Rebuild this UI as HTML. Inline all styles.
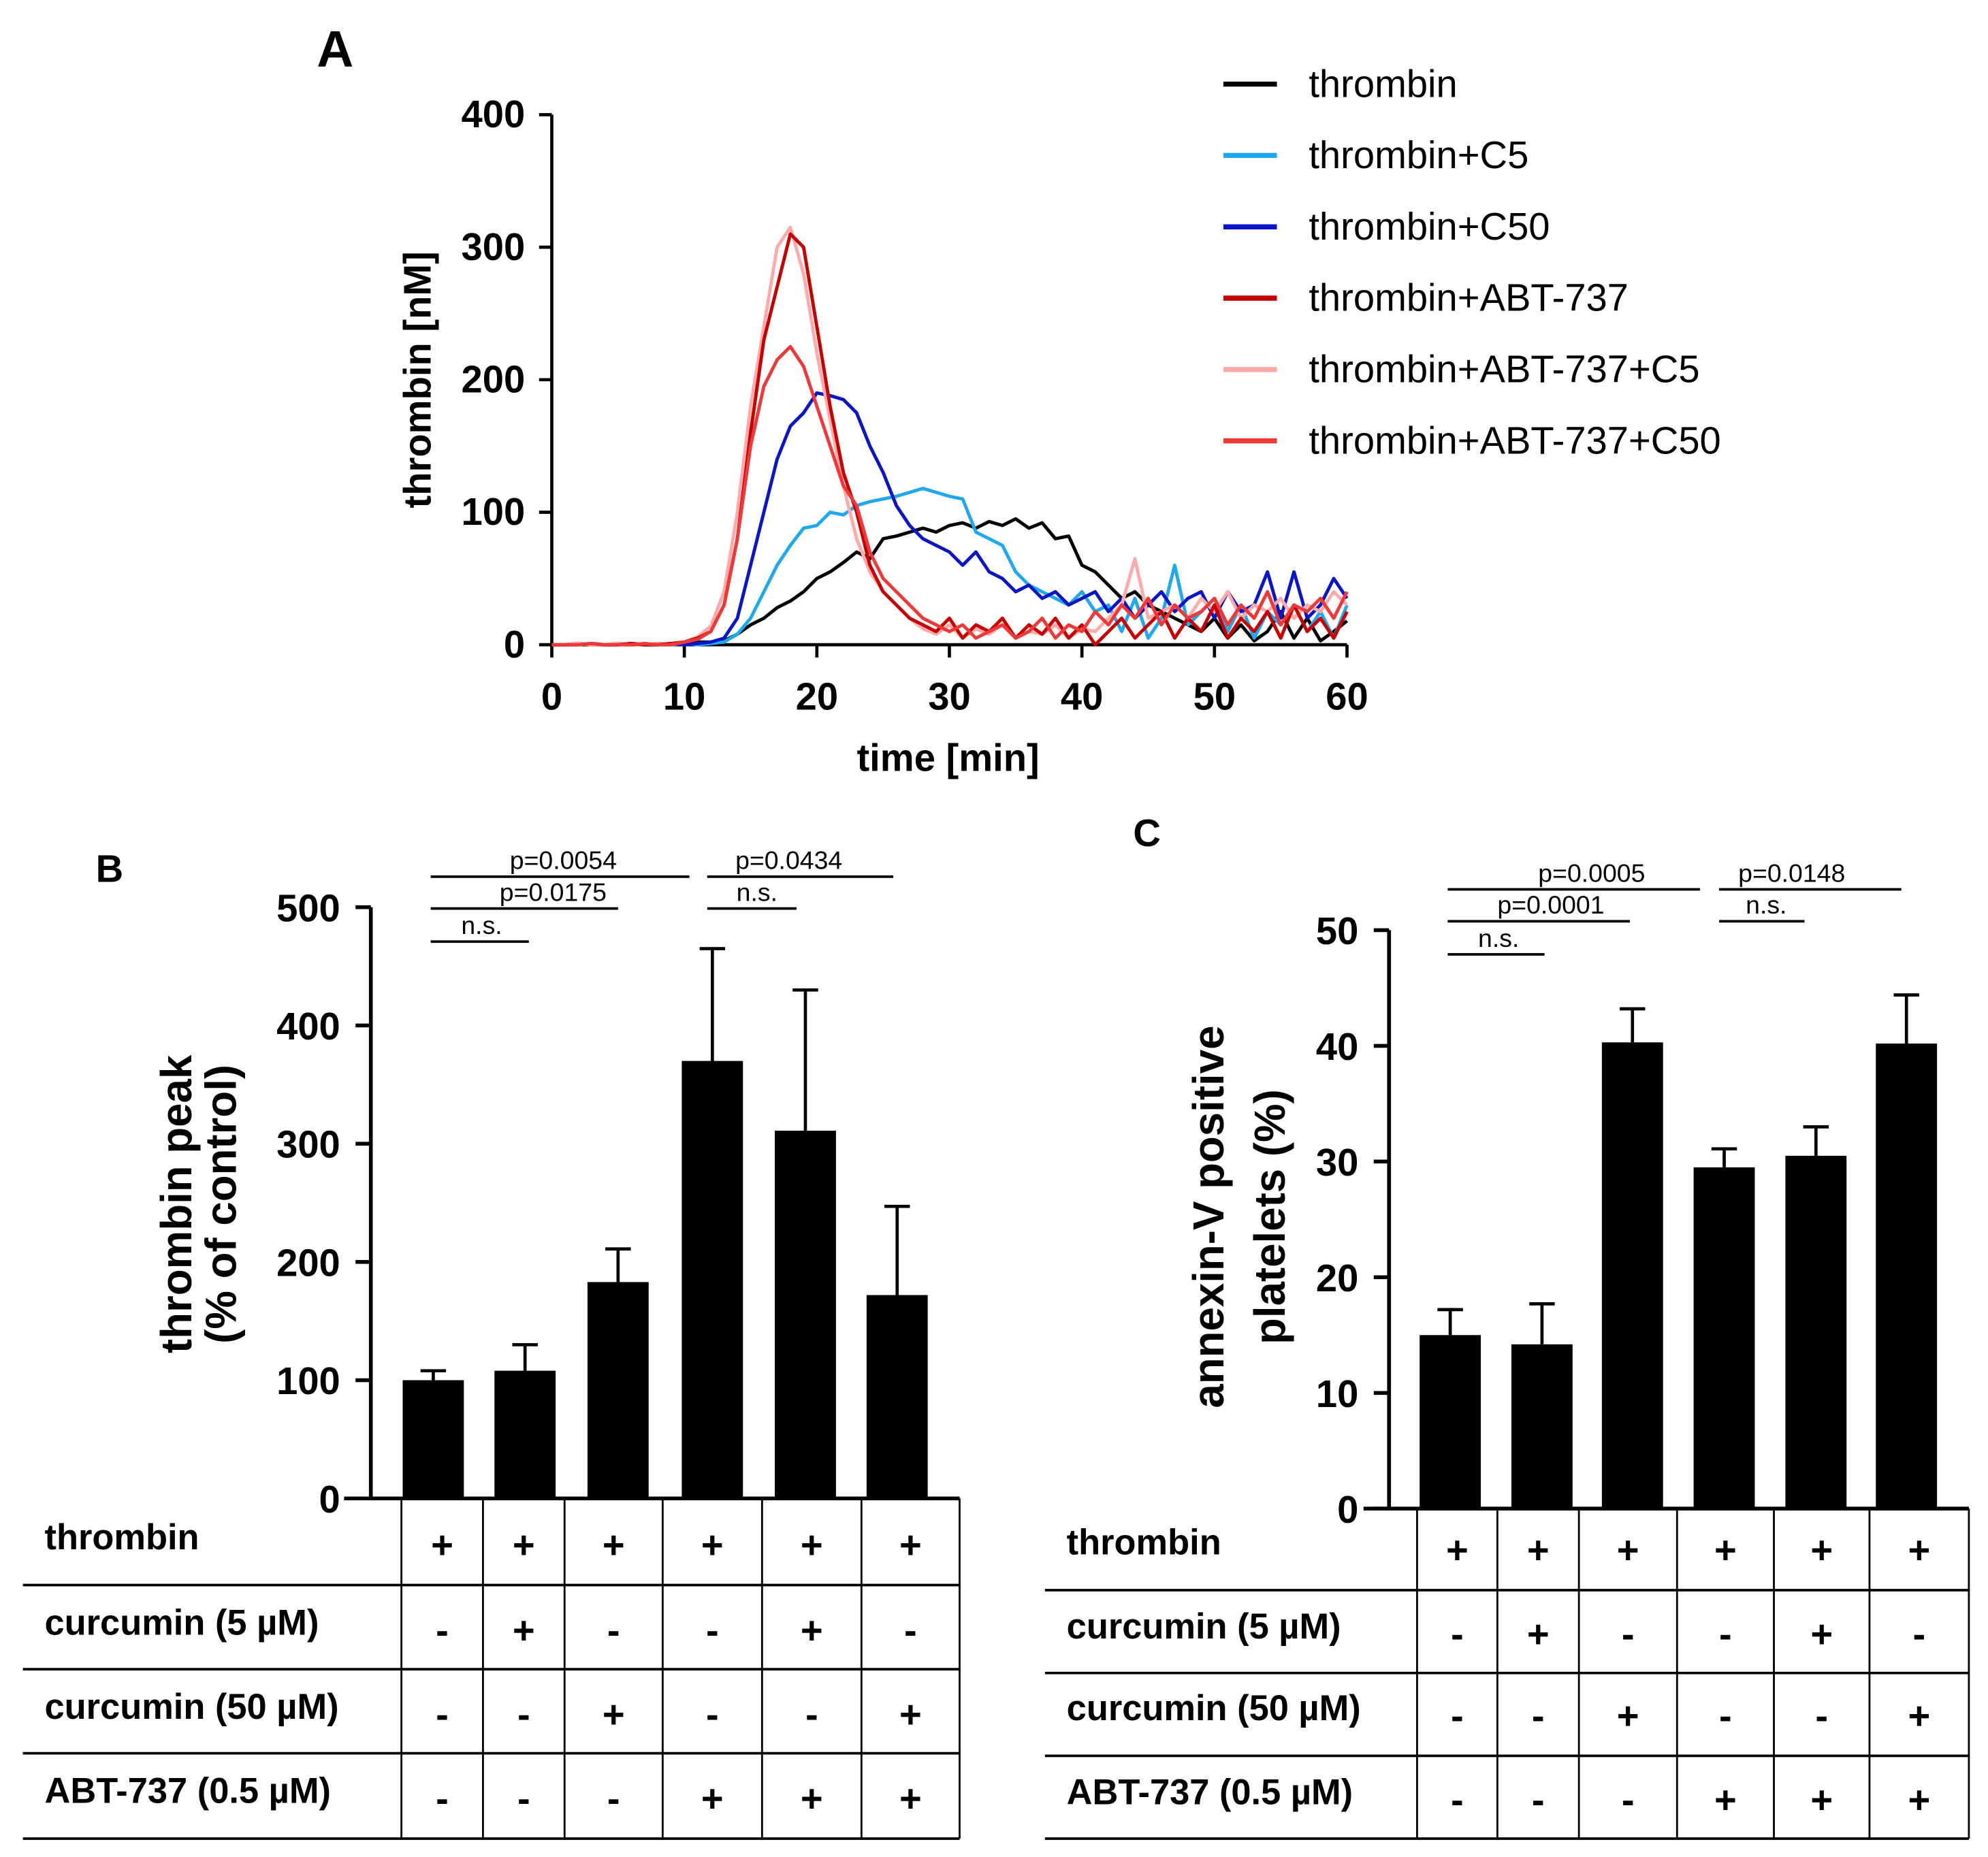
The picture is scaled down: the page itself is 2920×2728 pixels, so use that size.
<!DOCTYPE html>
<html><head><meta charset="utf-8"><style>
html,body{margin:0;padding:0;background:#fff}
svg{display:block}
text{font-family:"Liberation Sans",sans-serif}
.tk{font-weight:bold;font-size:30px}
.lg{font-size:30px}
.sig{font-size:20px}
.tb{font-size:28px;font-weight:bold}
.pm{font-size:30px;font-weight:bold}
</style></head><body>
<svg id="fig" width="2920" height="2728" viewBox="0 0 1560 1457.4" xmlns="http://www.w3.org/2000/svg"></svg>
<script>
// Panel A data (thrombin nM per minute 0..60)
const timeMin = Array.from({length:61},(_, i)=>i);
const sThrombin = [0,0,1,0,0,1,0,0,1,0,1,2,2,3,8,15,20,28,33,40,50,55,62,70,65,80,82,85,88,85,90,92,88,93,90,95,88,92,80,82,60,55,45,35,40,30,25,20,15,10,20,5,15,3,10,25,5,20,3,10,18];
const sC5 = [0,0,0,1,0,0,1,0,0,0,1,0,1,2,8,20,40,60,75,88,90,100,98,105,108,110,112,115,118,115,112,110,85,80,75,55,45,40,35,30,40,25,30,10,35,5,20,60,15,25,35,10,30,5,25,15,30,10,25,5,30];
const sC50 = [0,0,1,0,0,0,1,0,0,1,0,1,2,5,20,60,100,140,165,175,190,188,185,175,150,130,105,90,80,75,70,60,70,55,50,40,45,35,40,30,35,40,25,35,20,30,40,25,35,40,20,40,25,30,55,20,55,20,30,50,35];
const sABT = [0,0,0,1,0,0,1,0,0,1,2,5,10,30,80,160,230,270,310,300,240,180,130,100,60,40,30,20,15,10,20,5,15,10,20,5,15,8,20,5,15,0,10,20,5,15,25,5,20,10,30,5,20,10,25,5,30,10,20,5,25];
const sABTC5 = [0,0,1,0,0,1,0,0,1,0,2,6,14,40,100,180,240,300,315,280,220,170,120,80,55,40,30,20,12,8,15,5,12,8,15,5,10,8,15,5,12,10,20,30,65,20,25,30,20,35,25,40,20,30,25,35,20,30,25,40,30];
const sABTC50 = [0,0,0,1,0,0,0,1,0,0,2,4,10,30,80,150,195,215,225,210,180,150,120,105,70,50,40,30,20,15,10,15,5,10,15,5,10,20,5,15,10,25,15,30,20,35,15,30,20,25,35,15,30,20,40,15,30,25,35,20,40];
const legendNames = ["thrombin","thrombin+C5","thrombin+C50","thrombin+ABT-737","thrombin+ABT-737+C5","thrombin+ABT-737+C50"];
const legendColors = ["#000000","#1ea8f0","#0a14c8","#c80000","#ffaaaa","#f03838"];
const yTicksA = [0,100,200,300,400];
const xTicksA = [0,10,20,30,40,50,60];
// Panel B
const barsBVal = [100,108,183,370,311,172];
const barsBErr = [108,130,211,465,430,247];
const yTicksB = [0,100,200,300,400,500];
// Panel C
const barsCVal = [15,14.2,40.3,29.5,30.5,40.2];
const barsCErr = [17.2,17.7,43.2,31.1,33,44.4];
const yTicksC = [0,10,20,30,40,50];
const rowLabels = ["thrombin","curcumin (5 µM)","curcumin (50 µM)","ABT-737 (0.5 µM)"];
const rowSigns = [["+","+","+","+","+","+"],["-","+","-","-","+","-"],["-","-","+","-","-","+"],["-","-","-","+","+","+"]];

const NS="http://www.w3.org/2000/svg";
const svg=document.getElementById('fig');
function mk(tag,attrs,parent,txt){const e=document.createElementNS(NS,tag);for(const k in attrs)e.setAttribute(k,attrs[k]);if(txt!==undefined)e.textContent=txt;(parent||svg).appendChild(e);return e;}
function line(x1,y1,x2,y2,w,p,name){const e=mk('line',{x1,y1,x2,y2,stroke:'#000','stroke-width':w||2.5},p);return e;}
function txt(x,y,s,cls,anchor,p,name,extra){const a={x,y,class:cls,'text-anchor':anchor||'start'};if(extra)Object.assign(a,extra);const e=mk('text',a,p,s);return e;}

// ---- Panel A ----
const gA=mk('g',{});
const ax=t=>433+t*(1057-433)/60, ay=v=>506-v*(506-90)/400;
txt(263,52,"A","tk","middle",gA,"panel-a-letter",{style:"font-size:40px"});
line(433,90,433,506,2.5,gA,'a-y-axis');line(433,506,1057,506,2.5,gA,'a-x-axis');
yTicksA.forEach(v=>{line(423,ay(v),433,ay(v),2.5,gA,'a-y-tick');txt(412,ay(v)+10,String(v),"tk","end",gA,'a-y-tick-label');});
xTicksA.forEach(v=>{line(ax(v),506,ax(v),516,2.5,gA,'a-x-tick');txt(ax(v),557,String(v),"tk","middle",gA,'a-x-tick-label');});
txt(744,605,"time [min]","tk","middle",gA,'a-x-axis-title');
txt(0,0,"thrombin [nM]","tk","middle",gA,'a-y-axis-title',{transform:"translate(338,298) rotate(-90)"});
const series=[sThrombin,sC5,sC50,sABTC5,sABT,sABTC50];
const sIdx=[0,1,2,4,3,5];
series.forEach((s,k)=>{const c=legendColors[sIdx[k]];const d=s.map((v,i)=>(i?'L':'M')+ax(timeMin[i]).toFixed(1)+','+ay(v).toFixed(1)).join('');const p=mk('path',{d,fill:'none',stroke:c,'stroke-width':2.6,'stroke-linejoin':'round'},gA);});
legendNames.forEach((n,i)=>{const y=66+i*56;const g=mk('g',{},gA);const l=mk('line',{x1:960,y1:y,x2:1002,y2:y,stroke:legendColors[i],'stroke-width':4},g);txt(1027,y+10,n,"lg","start",g,'legend-label');});

// ---- bar panels ----
function barPanel(o){
 const g=mk('g',{});
 const y=v=>o.y0-v*(o.y0-o.yTop)/o.max;
 txt(o.letter[0],o.letter[1],o.letterS,"tk","middle",g,o.name+'-letter');
 line(o.ax,o.yTop,o.ax,o.y0,3,g,'y-axis');line(o.xl,o.y0,o.xr,o.y0,3,g,'x-axis');
 o.ticks.forEach(v=>{line(o.ax-12,y(v),o.ax,y(v),3,g,'y-tick');txt(o.ax-24,y(v)+11,String(v),"tk","end",g,'y-tick-label');});
 o.vals.forEach((v,i)=>{const cx=o.barX[i];line(cx,y(o.errs[i]),cx,y(v),2.5,g,'error-bar');line(cx-10,y(o.errs[i]),cx+10,y(o.errs[i]),2.5,g,'error-cap');const r=mk('rect',{x:cx-24,y:y(v),width:48,height:o.y0-y(v),fill:'#000'},g);});
 o.sig.forEach(s=>{line(s[0],s[2],s[1],s[2],2,g,'significance-line');txt(s[3],s[2]-6,s[4],"sig","middle",g,'significance-label');});
 o.ylab.forEach(l=>txt(0,0,l[2],"tk","middle",g,'y-axis-title',{transform:`translate(${l[0]},${l[1]}) rotate(-90)`,style:"font-size:34px"}));
 o.hl.forEach(yy=>line(o.tl,yy,o.xr,yy,2,g,'table-row-line'));
 o.vl.forEach(xx=>line(xx,o.y0,xx,o.hl[o.hl.length-1],1.5,g,'table-col-line'));
 rowLabels.forEach((r,ri)=>{txt(o.tl+17,o.rowY[ri],r,"tb","start",g,'row-label');rowSigns[ri].forEach((s,ci)=>{const cx=(o.vl[ci]+o.vl[ci+1])/2;txt(cx,o.rowY[ri]+7,s,"pm","middle",g,'cell-sign');});});
}
barPanel({name:'panel-b',letter:[86,692],letterS:"B",ax:291,y0:1176,yTop:712,max:500,xl:270,xr:753,ticks:yTicksB,vals:barsBVal,errs:barsBErr,
 barX:[340,412,485,559,632,704],
 sig:[[338,541,688,442,"p=0.0054"],[338,485,713,434,"p=0.0175"],[338,415,739,378,"n.s."],[555,701,688,619,"p=0.0434"],[555,625,713,594,"n.s."]],
 ylab:[[150,945,"thrombin peak"],[185,945,"(% of control)"]],
 tl:18,hl:[1244,1310,1376,1443],vl:[315,379,443,520,598,676,753],rowY:[1216,1283,1349,1415]});
barPanel({name:'panel-c',letter:[900,664],letterS:"C",ax:1090,y0:1184,yTop:730,max:50,xl:1070,xr:1545,ticks:yTicksC,vals:barsCVal,errs:barsCErr,
 barX:[1138,1210,1281,1353,1425,1496],
 sig:[[1136,1334,698,1249,"p=0.0005"],[1136,1279,723,1217,"p=0.0001"],[1136,1212,749,1176,"n.s."],[1349,1492,698,1406,"p=0.0148"],[1349,1416,723,1386,"n.s."]],
 ylab:[[960,955,"annexin-V positive"],[1008,955,"platelets (%)"]],
 tl:820,hl:[1248,1313,1378,1443],vl:[1112,1175,1239,1316,1392,1467,1545],rowY:[1220,1286,1350,1416]});
</script>
</body></html>
